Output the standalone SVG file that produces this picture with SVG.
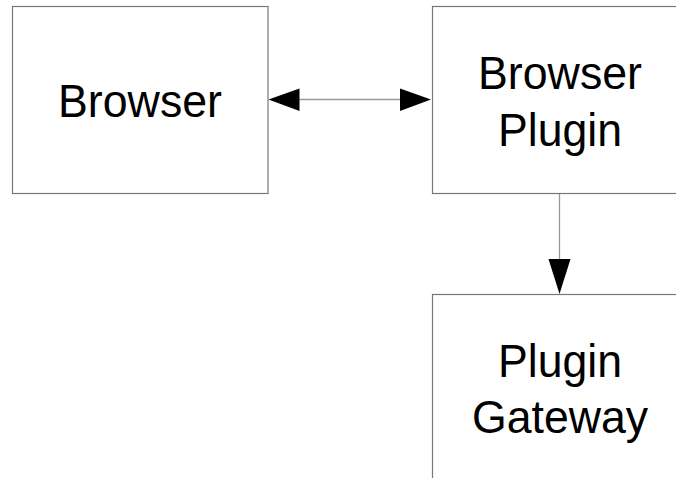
<svg xmlns="http://www.w3.org/2000/svg" width="676" height="478" viewBox="0 0 676 478">
<style>
.box{fill:#fff;stroke:#777;stroke-width:1.2}
.lbl{font-family:"Liberation Sans",Arial,sans-serif;font-size:47px;fill:#000;text-anchor:middle}
.con{stroke:#999;stroke-width:1.3;fill:none}
.ah{fill:#000}
</style>
<rect width="676" height="478" fill="#fff"/>
<g id="browser">
<rect class="box" x="12.5" y="6.5" width="255.5" height="187"/>
<text class="lbl" x="140" y="117" textLength="164" lengthAdjust="spacingAndGlyphs">Browser</text>
</g>
<g id="browser-plugin">
<rect class="box" x="432.5" y="6.5" width="256" height="187"/>
<text class="lbl" x="560" y="89" textLength="164" lengthAdjust="spacingAndGlyphs">Browser</text>
<text class="lbl" x="560" y="146" textLength="124" lengthAdjust="spacingAndGlyphs">Plugin</text>
</g>
<g id="plugin-gateway">
<rect class="box" x="432.5" y="294.5" width="256" height="187"/>
<text class="lbl" x="560" y="377" textLength="124" lengthAdjust="spacingAndGlyphs">Plugin</text>
<text class="lbl" x="560" y="433" textLength="176" lengthAdjust="spacingAndGlyphs">Gateway</text>
</g>
<g id="connectors">
<line class="con" x1="299" y1="99.5" x2="400" y2="99.5"/>
<polygon class="ah" points="268.5,99.5 299.5,88.5 299.5,111"/>
<polygon class="ah" points="431,99.5 400,88.5 400,111"/>
<line class="con" x1="559.5" y1="194" x2="559.5" y2="260"/>
<polygon class="ah" points="559.5,294 548.5,259 570.5,259"/>
</g>
</svg>
